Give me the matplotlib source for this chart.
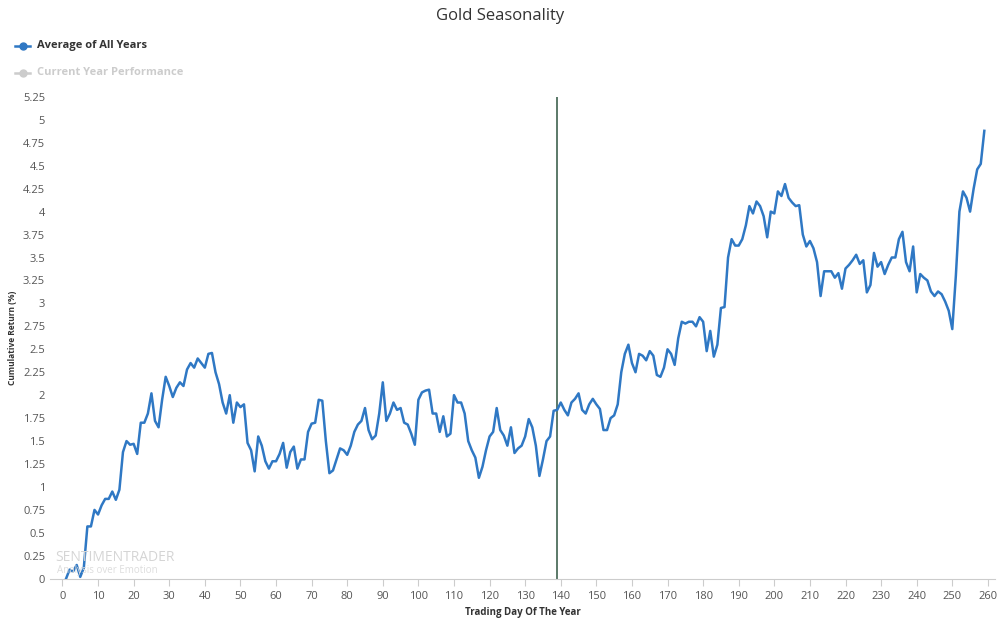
import numpy as np
import matplotlib.pyplot as plt
from matplotlib.lines import Line2D

plt.rcParams["font.family"] = "Open Sans"

# =========================
# Data
# =========================
start_day = 1
avg_all_years = [
    0.0, 0.1, 0.08, 0.15, 0.02, 0.12, 0.57, 0.57, 0.75, 0.7,
    0.8, 0.87, 0.87, 0.95, 0.86, 0.97, 1.38, 1.5, 1.46, 1.47,
    1.36, 1.7, 1.7, 1.8, 2.02, 1.72, 1.65, 1.95, 2.2, 2.1,
    1.98, 2.08, 2.14, 2.1, 2.28, 2.35, 2.3, 2.4, 2.35, 2.3,
    2.45, 2.46, 2.25, 2.12, 1.92, 1.8, 2.0, 1.7, 1.92, 1.87,
    1.9, 1.48, 1.4, 1.17, 1.55, 1.45, 1.28, 1.2, 1.28, 1.28,
    1.36, 1.48, 1.21, 1.38, 1.44, 1.2, 1.3, 1.3, 1.6, 1.69,
    1.7, 1.95, 1.94, 1.5, 1.15, 1.18, 1.3, 1.42, 1.4, 1.35,
    1.45, 1.6, 1.68, 1.72, 1.86, 1.62, 1.52, 1.56, 1.8, 2.14,
    1.72, 1.8, 1.92, 1.84, 1.86, 1.7, 1.68, 1.58, 1.46, 1.95,
    2.03, 2.05, 2.06, 1.8, 1.8, 1.6, 1.77, 1.55, 1.58, 2.0,
    1.92, 1.92, 1.8, 1.5, 1.4, 1.32, 1.1, 1.22, 1.4, 1.55,
    1.6, 1.86, 1.62, 1.56, 1.45, 1.65, 1.37, 1.42, 1.45, 1.55,
    1.74, 1.65, 1.45, 1.12, 1.3, 1.5, 1.55, 1.83, 1.84, 1.92,
    1.84, 1.78, 1.92, 1.96, 2.02, 1.84, 1.8, 1.9, 1.96, 1.9,
    1.85, 1.62, 1.62, 1.75, 1.78, 1.9, 2.25, 2.45, 2.55, 2.35,
    2.25, 2.45, 2.43, 2.38, 2.48, 2.43, 2.22, 2.2, 2.3, 2.5,
    2.45, 2.33, 2.62, 2.8, 2.78, 2.8, 2.8, 2.75, 2.85, 2.8,
    2.48, 2.7, 2.42, 2.55, 2.95, 2.96, 3.5, 3.7, 3.63, 3.63,
    3.7, 3.85, 4.06, 3.98, 4.11, 4.06, 3.95, 3.72, 4.0, 3.98,
    4.22, 4.17, 4.3, 4.15, 4.1, 4.06, 4.07, 3.75, 3.62, 3.68,
    3.6, 3.45, 3.08, 3.35, 3.35, 3.35, 3.28, 3.33, 3.16, 3.38,
    3.42, 3.47, 3.53, 3.43, 3.47, 3.12, 3.2, 3.55, 3.4, 3.45,
    3.32, 3.42, 3.5, 3.5, 3.7, 3.78, 3.45, 3.35, 3.62, 3.12,
    3.32, 3.28, 3.25, 3.13, 3.08, 3.13, 3.1, 3.02, 2.92, 2.72,
    3.3, 4.0, 4.22, 4.15, 4.0, 4.25, 4.46, 4.52, 4.88,
]
current_day = 139
y_ticks = [0, 0.25, 0.5, 0.75, 1, 1.25, 1.5, 1.75, 2, 2.25, 2.5, 2.75,
           3, 3.25, 3.5, 3.75, 4, 4.25, 4.5, 4.75, 5, 5.25]
x_ticks = list(range(0, 261, 10))

# =========================
# Plot
# =========================
fig = plt.figure(figsize=(10, 6.25), dpi=100)
ax = fig.add_axes([0.05, 0.074, 0.945, 0.771])

days = np.arange(start_day, start_day + len(avg_all_years))
ax.plot(days, avg_all_years, color="#2f78c4", linewidth=1.8, zorder=3)
ax.axvline(current_day, color="#4e6e5d", linewidth=1.3, zorder=2)

ax.set_xlim(-3.5, 262)
ax.set_ylim(0, 5.25)
ax.set_xticks(x_ticks)
ax.set_yticks(y_ticks)
ax.set_yticklabels([f"{v:g}" for v in y_ticks])
ax.tick_params(axis="both", labelsize=8, colors="#555555", length=0)
ax.tick_params(axis="x", length=5, color="#cccccc")
for s in ["top", "right", "left"]:
    ax.spines[s].set_visible(False)
ax.spines["bottom"].set_color("#cccccc")

ax.set_xlabel("Trading Day Of The Year", fontsize=7, fontweight="bold", color="#333333")
ax.set_ylabel("Cumulative Return (%)", fontsize=6, fontweight="bold", color="#333333")

fig.text(0.5, 0.975, "Gold Seasonality", ha="center", va="center", fontsize=12, color="#333333")

# legend-like labels
for y, col, txt in [(0.927, "#2f78c4", "Average of All Years"),
                    (0.884, "#cccccc", "Current Year Performance")]:
    fig.add_artist(Line2D([0.015, 0.03], [y, y], color=col, linewidth=1.8))
    fig.add_artist(Line2D([0.0225], [y], color=col, marker="o", markersize=5, linestyle=""))
    fig.text(0.037, y, txt, fontsize=8, fontweight="bold",
             color="#333333" if col != "#cccccc" else "#cccccc", va="center")

# watermark
fig.text(0.055, 0.108, "SENTIMENTRADER", fontsize=10, color="#d5d5d5", va="center")
fig.text(0.057, 0.088, "Analysis over Emotion", fontsize=7, color="#dddddd", va="center")

fig.savefig("out.png", dpi=100)
